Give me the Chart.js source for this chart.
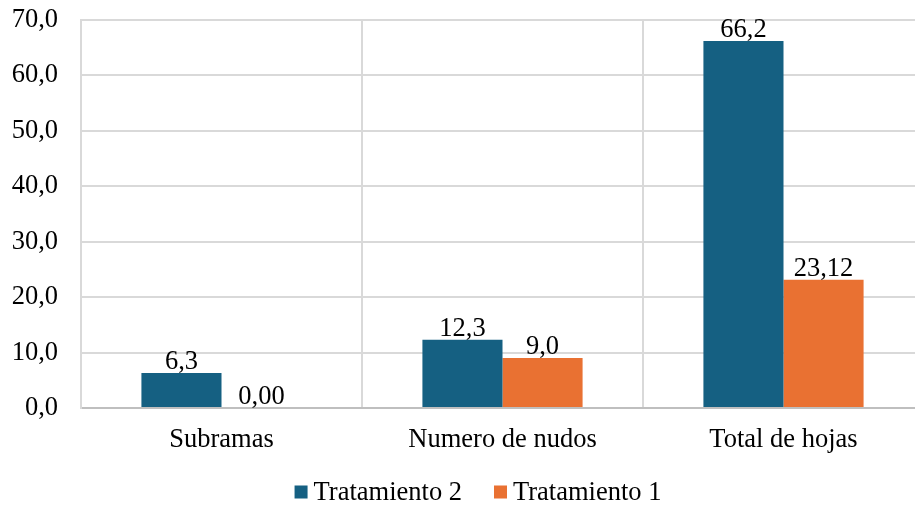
<!DOCTYPE html>
<html>
<head>
<meta charset="utf-8">
<script src="https://cdn.jsdelivr.net/npm/chart.js@4"></script>
<style>
  html, body { margin: 0; padding: 0; background: #fff; overflow: hidden; }
  #wrap { width: 915px; height: 506px; overflow: hidden; position: relative; }
  canvas { display: block; }
</style>
</head>
<body>
<div id="wrap"><canvas id="c" width="956" height="506"></canvas></div>
<script>
// Categories and series
const categories = ['Subramas', 'Numero de nudos', 'Total de hojas'];
const seriesNames = ['Tratamiento 2', 'Tratamiento 1'];
const tratamiento2 = [6.3, 12.3, 66.2];
const tratamiento1 = [0, 9.0, 23.12];
// Decimal places shown on each value label
const decimals2 = [1, 1, 1];
const decimals1 = [2, 1, 2];
// Value axis
const yMin = 0, yMax = 70, yStep = 10;

const FONT = '"Liberation Serif", "Times New Roman", serif';
const FONT_SIZE = 26.5;
const BLUE = '#156082';
const ORANGE = '#E97132';

const fmt = (v, d) => v.toFixed(d).replace('.', ',');

// Value labels above each bar
const valueLabels = {
  id: 'valueLabels',
  afterDatasetsDraw(chart) {
    const ctx = chart.ctx;
    ctx.save();
    ctx.font = FONT_SIZE + 'px ' + FONT;
    ctx.fillStyle = '#000';
    ctx.textAlign = 'center';
    ctx.textBaseline = 'alphabetic';
    chart.data.datasets.forEach((ds, di) => {
      const meta = chart.getDatasetMeta(di);
      meta.data.forEach((bar, i) => {
        const txt = fmt(ds.data[i], ds.decimals[i]);
        ctx.fillText(txt, bar.x, bar.y - 4);
      });
    });
    ctx.restore();
  }
};

// Legend drawn below the axis labels
const bottomLegend = {
  id: 'bottomLegend',
  afterDraw(chart) {
    const ctx = chart.ctx;
    const box = 13, gap = 6, itemGap = 32;
    ctx.save();
    ctx.font = FONT_SIZE + 'px ' + FONT;
    const items = chart.data.datasets.map(ds => ({
      text: ds.label, color: ds.backgroundColor,
      w: box + gap + ctx.measureText(ds.label).width
    }));
    const total = items.reduce((s, it) => s + it.w, 0) + itemGap * (items.length - 1);
    let x = chart.width / 2 - total / 2;
    const cy = 492;
    ctx.textBaseline = 'middle';
    ctx.textAlign = 'left';
    items.forEach(it => {
      ctx.fillStyle = it.color;
      ctx.fillRect(x, cy - box / 2, box, box);
      ctx.fillStyle = '#000';
      ctx.fillText(it.text, x + box + gap, cy + 1);
      x += it.w + itemGap;
    });
    ctx.restore();
  }
};

new Chart(document.getElementById('c'), {
  type: 'bar',
  data: {
    labels: categories,
    datasets: [
      { label: seriesNames[0], data: tratamiento2, decimals: decimals2, backgroundColor: BLUE },
      { label: seriesNames[1], data: tratamiento1, decimals: decimals1, backgroundColor: ORANGE }
    ]
  },
  options: {
    responsive: false,
    animation: false,
    devicePixelRatio: 1,
    layout: { padding: { top: 20, right: 32, bottom: 48, left: 0 } },
    datasets: { bar: { barPercentage: 1, categoryPercentage: 0.57 } },
    plugins: {
      legend: { display: false },
      title: { display: false },
      tooltip: { enabled: false }
    },
    scales: {
      x: {
        afterFit(s) { s.height = 50; s.paddingLeft = 0; s.paddingRight = 0; },
        grid: { color: '#d9d9d9', lineWidth: 2, offset: true, drawTicks: false },
        border: { color: '#bfbfbf', width: 2 },
        ticks: { color: '#000', font: { family: FONT, size: FONT_SIZE }, padding: 16, maxRotation: 0 }
      },
      y: {
        min: yMin, max: yMax,
        afterFit(s) { s.width = 81; s.paddingTop = 0; s.paddingBottom = 0; },
        grid: { color: '#d9d9d9', lineWidth: 2, drawTicks: false },
        border: { color: '#d9d9d9', width: 2 },
        ticks: {
          stepSize: yStep,
          color: '#000',
          font: { family: FONT, size: FONT_SIZE },
          padding: 23,
          callback: v => fmt(v, 1)
        }
      }
    }
  },
  plugins: [valueLabels, bottomLegend]
});
</script>
</body>
</html>
